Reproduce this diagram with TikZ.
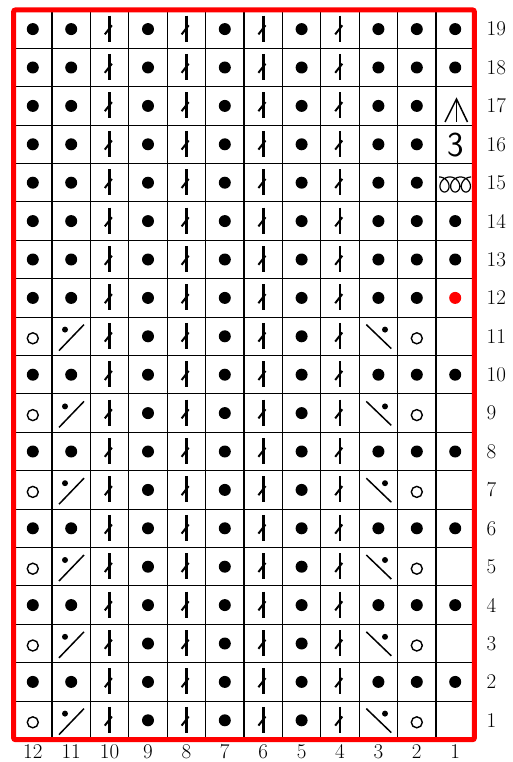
\documentclass[tikz,border=0pt]{standalone}
\usepackage{tikz}
\tikzset{
  gridline/.style={line width=1.1pt, black},
  frameline/.style={line width=5pt, red, rounded corners=2pt},
  numlabel/.style={font=\fontsize{21}{21}\selectfont, inner sep=0pt},
  pics/purl/.style={code={\fill (0,0) circle (6);}},
  pics/redpurl/.style={code={\fill[red] (0,0) circle (6);}},
  pics/twist/.style={code={
    \draw[line width=2.7pt] (0,-13.5) -- (0,12.5);
    \draw[line width=2pt] (-4.8,5.3) -- (2.3,-3.8);}},
  pics/yo/.style={code={\draw[line width=1.4pt] (0,2) circle (5.5);}},
  pics/ldec/.style={code={
    \draw[line width=1.5pt] (-12.2,14.3) -- (12.8,-11.7);
    \fill (-6.2,-6.7) circle (3);}},
  pics/rdec/.style={code={
    \draw[line width=1.5pt] (-12.1,-11.7) -- (12.9,12.3);
    \fill (6.6,-6.7) circle (3);}},
}
\newcommand{\cxof}[1]{493.6-38.4*#1}
\newcommand{\cyof}[1]{758.7-38.4*#1}
\begin{document}
\begin{tikzpicture}[x=1pt,y=-1pt]
\useasboundingbox (0,0) rectangle (512,762);
% grid
\foreach \i in {1,...,11} {
  \draw[gridline] ({13.6+38.4*\i},9.9) -- ({13.6+38.4*\i},739.7);
}
\foreach \j in {1,...,18} {
  \draw[gridline] (13.6,{9.9+38.4*\j}) -- (474.4,{9.9+38.4*\j});
}
% twisted stitches in all rows
\foreach \r in {1,...,19} {
  \foreach \c in {4,6,8,10} {
    \pic at ({\cxof{\c}},{\cyof{\r}}) {twist};
  }
  \foreach \c in {5,7,9} {
    \pic at ({\cxof{\c}},{\cyof{\r}}) {purl};
  }
}
% plain purl rows
\foreach \r in {2,4,6,8,10,12,13,14,15,16,17,18,19} {
  \foreach \c in {2,3,11,12} {
    \pic at ({\cxof{\c}},{\cyof{\r}}) {purl};
  }
}
\foreach \r in {2,4,6,8,10,13,14,18,19} {
  \pic at ({\cxof{1}},{\cyof{\r}}) {purl};
}
\pic at ({\cxof{1}},{\cyof{12}}) {redpurl};
% lace rows
\foreach \r in {1,3,5,7,9,11} {
  \pic at ({\cxof{12}},{\cyof{\r}}) {yo};
  \pic at ({\cxof{11}},{\cyof{\r}}) {ldec};
  \pic at ({\cxof{3}},{\cyof{\r}}) {rdec};
  \pic at ({\cxof{2}},{\cyof{\r}}) {yo};
}
% special symbols in column 1
\draw[line width=1.5pt] (445,122) -- (456.5,99) -- (467.5,122);
\draw[line width=1.5pt] (456.5,99) -- (456.5,122);
\node[inner sep=0pt, font=\sffamily\fontsize{35}{35}\selectfont] (three) at (455.8,144.6) {3};
\draw[line width=1.2pt, line join=round] plot[domain=-pi:5*pi, samples=240, variable=\t]
  ({444.5+1.7*\t-7*sin(\t r)}, {184.5+7.5*cos(\t r)});
% frame
\draw[frameline] (13.6,9.9) rectangle (474.4,739.7);
% row labels
\foreach \r in {1,...,19} {
  \node[numlabel, anchor=west] (rl\r) at (486.5,{\cyof{\r}}) {\r};
}
% column labels
\foreach \c in {1,...,12} {
  \node[numlabel, anchor=base] (cl\c) at ({\cxof{\c}},758) {\c};
}
\end{tikzpicture}
\end{document}
